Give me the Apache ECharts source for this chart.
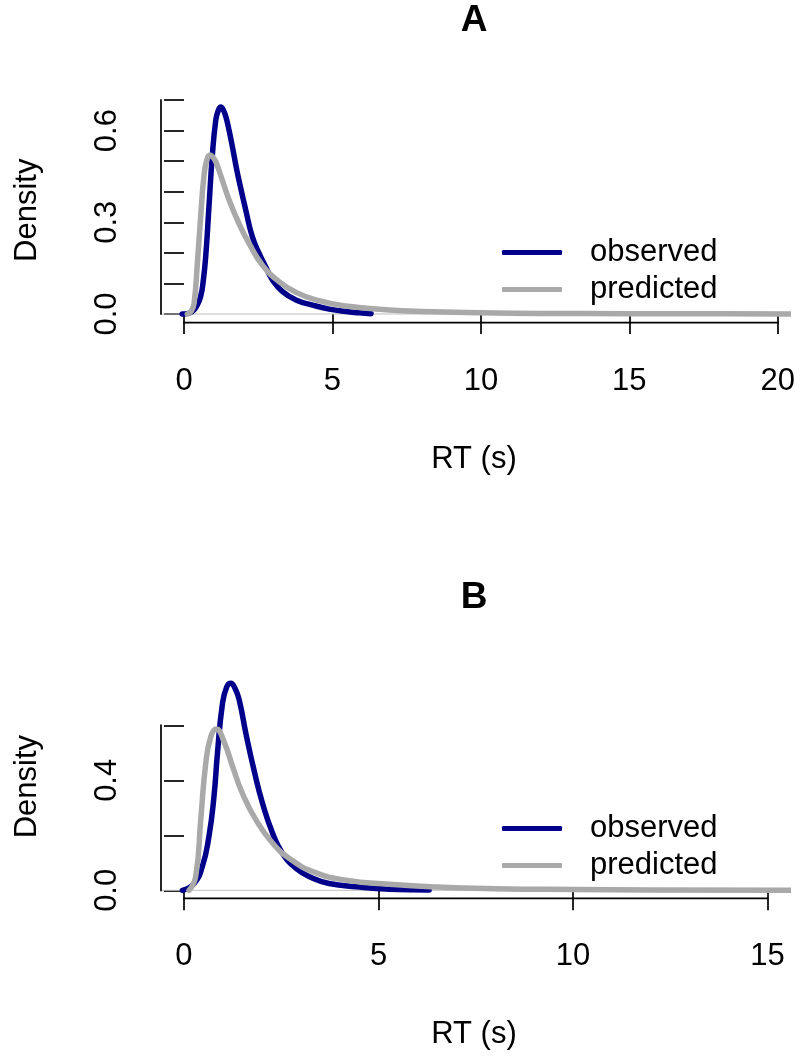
<!DOCTYPE html>
<html><head><meta charset="utf-8">
<script src="https://cdn.jsdelivr.net/npm/echarts@6/dist/echarts.min.js"></script>
<style>html,body{margin:0;padding:0;background:#fff}#c{width:800px;height:1057px}</style>
</head><body><div id="c"></div>
<script>
// ---- data ----
const obsA = [[-0.06,0],[0.15,0.002],[0.28,0.008],[0.42,0.025],[0.56,0.057],[0.65,0.11],[0.73,0.187],[0.84,0.35],[0.95,0.514],[1.07,0.634],[1.15,0.665],[1.24,0.677],[1.32,0.668],[1.41,0.645],[1.52,0.6],[1.63,0.547],[1.74,0.49],[1.85,0.438],[2.08,0.34],[2.30,0.253],[2.53,0.198],[2.75,0.155],[2.98,0.111],[3.32,0.073],[3.77,0.046],[4.33,0.029],[4.89,0.016],[5.45,0.008],[5.9,0.004],[6.3,0.001]];
const predA = [[0.11,0],[0.25,0.01],[0.34,0.035],[0.45,0.166],[0.56,0.318],[0.67,0.449],[0.77,0.505],[0.88,0.52],[0.97,0.513],[1.07,0.498],[1.18,0.47],[1.29,0.438],[1.52,0.373],[1.85,0.296],[2.19,0.231],[2.64,0.16],[3.20,0.106],[3.77,0.071],[4.44,0.046],[5.45,0.026],[6.91,0.013],[8,0.008],[10,0.004],[12,0.002],[15,0.001],[18,0.0005],[20.5,0.0003]];
const obsB = [[-0.04,0],[0.26,0.025],[0.47,0.086],[0.64,0.195],[0.77,0.34],[0.86,0.498],[0.99,0.68],[1.1,0.74],[1.20,0.753],[1.31,0.735],[1.42,0.692],[1.59,0.571],[1.80,0.437],[2.02,0.316],[2.28,0.207],[2.53,0.135],[2.88,0.08],[3.31,0.044],[3.73,0.025],[4.43,0.013],[5.28,0.004],[6.3,0.001]];
const predB = [[0.13,0],[0.30,0.05],[0.43,0.256],[0.56,0.462],[0.69,0.559],[0.83,0.587],[1.03,0.54],[1.25,0.45],[1.50,0.353],[1.85,0.256],[2.28,0.171],[2.71,0.116],[3.31,0.068],[4.16,0.037],[5.28,0.022],[6.5,0.012],[8,0.006],[10,0.003],[12,0.0015],[15.6,0.0005]];
const xTicksA = [0,5,10,15,20];
const yTicksA = [0,0.1,0.2,0.3,0.4,0.5,0.6,0.7];
const yLabelsA = [0,0.3,0.6];
const xTicksB = [0,5,10,15];
const yTicksB = [0,0.2,0.4,0.6];
const yLabelsB = [0,0.4];
const panelTitles = ['A','B'];
const seriesNames = ['observed','predicted'];
const xName = 'RT (s)';
const yName = 'Density';

// ---- layout / style ----
const FONT = '"Liberation Sans", Arial, Helvetica, sans-serif';
const BLUE = '#00008B', GRAY = '#A9A9A9', ZERO = '#BEBEBE';
const AXW = 1.7, LW = 5.5;
const panels = [
  {obs:obsA, pred:predA, xt:xTicksA, yt:yTicksA, yl:yLabelsA, xr:[-0.775,20.31], yr:[-0.0285,0.707], top:97.9, height:224.8, titleY:21, legendTop:237},
  {obs:obsB, pred:predB, xt:xTicksB, yt:yTicksB, yl:yLabelsB, xr:[-0.591,15.50], yr:[-0.029,0.783], top:675, height:223.3, titleY:598, legendTop:813}
];

const grid=[], xAxis=[], yAxis=[], series=[], legend=[], graphic=[];
panels.forEach((p,i)=>{
  grid.push({left:161, right:13, top:p.top, height:p.height, containLabel:false});
  xAxis.push({gridIndex:i, type:'value', min:p.xr[0], max:p.xr[1],
    axisLine:{show:false}, splitLine:{show:false},
    axisTick:{show:true, inside:false, length:20, customValues:p.xt, lineStyle:{color:'#000', width:AXW}},
    axisLabel:{customValues:p.xt, margin:43, fontSize:31, color:'#000', fontFamily:FONT},
    name:xName, nameLocation:'middle', nameGap:121,
    nameTextStyle:{fontSize:31, color:'#000', fontFamily:FONT}});
  yAxis.push({gridIndex:i, type:'value', min:p.yr[0], max:p.yr[1],
    axisLine:{show:false}, splitLine:{show:false},
    axisTick:{show:true, inside:false, length:20, customValues:p.yt, lineStyle:{color:'#000', width:AXW}},
    axisLabel:{customValues:p.yl, rotate:90, margin:38, fontSize:31, color:'#000', fontFamily:FONT,
      formatter:v=>Number(v).toFixed(1)},
    name:yName, nameLocation:'middle', nameGap:118, nameRotate:90,
    nameTextStyle:{fontSize:31, color:'#000', fontFamily:FONT}});
  // zero line (density baseline)
  series.push({type:'line', xAxisIndex:i, yAxisIndex:i, data:[[p.xr[0],0],[p.xr[1],0]],
    symbol:'none', silent:true, z:1, lineStyle:{color:ZERO, width:1}});
  // R-style axis lines spanning the tick range
  series.push({type:'line', xAxisIndex:i, yAxisIndex:i, data:[[p.xt[0],p.yr[0]],[p.xt[p.xt.length-1],p.yr[0]]],
    symbol:'none', silent:true, clip:false, z:1, lineStyle:{color:'#000', width:AXW, cap:'square'}});
  series.push({type:'line', xAxisIndex:i, yAxisIndex:i, data:[[p.xr[0],p.yt[0]],[p.xr[0],p.yt[p.yt.length-1]]],
    symbol:'none', silent:true, clip:false, z:1, lineStyle:{color:'#000', width:AXW, cap:'square'}});
  series.push({name:seriesNames[0], type:'line', xAxisIndex:i, yAxisIndex:i, data:p.obs,
    symbol:'none', smooth:0.5, clip:true, z:3, color:BLUE,
    lineStyle:{color:BLUE, width:LW, cap:'round', join:'round'}});
  series.push({name:seriesNames[1], type:'line', xAxisIndex:i, yAxisIndex:i, data:p.pred,
    symbol:'none', smooth:0.5, clip:true, z:4, color:GRAY,
    lineStyle:{color:GRAY, width:LW, cap:'round', join:'round'}});
  legend.push({data:seriesNames.slice(), orient:'vertical', left:502, top:p.legendTop, padding:0,
    icon:'roundRect', itemWidth:60, itemHeight:5, itemGap:6, selectedMode:false,
    textStyle:{fontSize:31, lineHeight:31, color:'#000', fontFamily:FONT, padding:[0,0,0,23]}});
  graphic.push({type:'text', x:474, y:p.titleY, style:{text:panelTitles[i], align:'center', verticalAlign:'middle',
    font:'bold 37px '+FONT, fill:'#000'}});
});

const chart = echarts.init(document.getElementById('c'), null, {renderer:'canvas'});
chart.setOption({backgroundColor:'#fff', animation:false, grid, xAxis, yAxis, series, legend, graphic});
</script></body></html>
